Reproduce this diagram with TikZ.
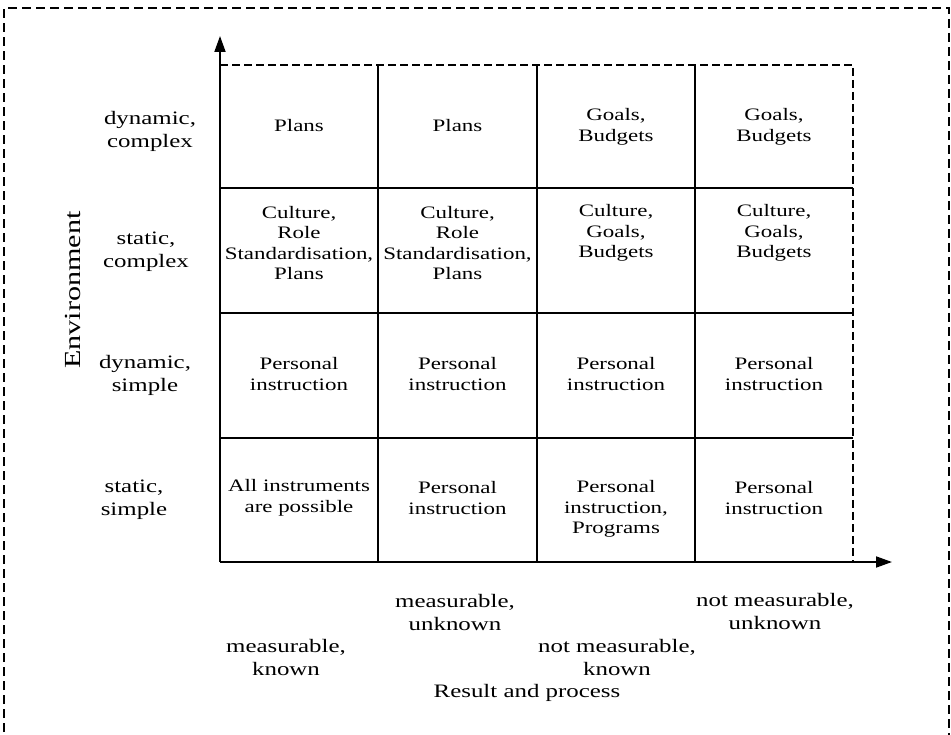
\documentclass[tikz,border=0pt]{standalone}
\usepackage{fontspec}
\setmainfont{Liberation Serif}[FakeStretch=1.31]
\usetikzlibrary{arrows.meta}
\begin{document}
\begin{tikzpicture}[x=1pt,y=-1pt,
  frame/.style={line width=1.6pt,dash pattern=on 9pt off 5pt},
  gridline/.style={line width=1.6pt},
  edge/.style={line width=1.6pt,dash pattern=on 8pt off 4pt},
  axis/.style={line width=1.8pt,-{Triangle[length=16pt,width=11pt]}},
  cell/.style={align=center,inner sep=0pt,font=\fontsize{17.5}{20.5}\selectfont},
  lab/.style={align=center,inner sep=0pt,font=\fontsize{19}{23}\selectfont}]
\useasboundingbox (0,0) rectangle (951,735);
\clip (0,0) rectangle (951,735);
% outer dashed frame (runs past the lower edge)
\draw[frame] (4,760) -- (4,8) -- (949,8) -- (949,760);

% grid corners
\coordinate (O) at (220,562);
\coordinate (TL) at (220,65);
\coordinate (TR) at (853,65);
\coordinate (BR) at (853,562);
\coordinate (ytip) at (220,36);
\coordinate (xtip) at (892,562);

% inner grid lines
\foreach \x in {378,537,695} \draw[gridline] (\x,65) -- (\x,562);
\foreach \y in {188,313,438} \draw[gridline] (220,\y) -- (853,\y);
% dashed top and right edges
\draw[edge] (TL) -- (TR) -- (BR);
% axes
\draw[axis] (O) -- (ytip);
\draw[axis] (O) -- (xtip);

% row labels
\node[lab] (r1) at (150,131) {dynamic,\\complex};
\node[lab] (r2) at (146,252) {static,\\complex};
\node[lab] (r3) at (145,375) {dynamic,\\simple};
\node[lab] (r4) at (134,500) {static,\\simple};
\node[lab,rotate=90,font=\fontsize{23}{26}\selectfont] (env) at (73,290) {Environment};

% column labels
\node[lab] (c1) at (286,657) {measurable,\\known};
\node[lab] (c2) at (455,612) {measurable,\\unknown};
\node[lab] (c3) at (617,657) {not measurable,\\known};
\node[lab] (c4) at (775,611) {not measurable,\\unknown};
\node[lab] (res) at (527,693) {Result and process};

% cells, row 1
\node[cell] (a1) at (299,126) {Plans};
\node[cell] (a2) at (457.5,126) {Plans};
\node[cell] (a3) at (616,127) {Goals,\\Budgets};
\node[cell] (a4) at (774,127) {Goals,\\Budgets};
% row 2
\node[cell] (b1) at (299,243) {Culture,\\Role\\Standardisation,\\Plans};
\node[cell] (b2) at (457.5,243) {Culture,\\Role\\Standardisation,\\Plans};
\node[cell] (b3) at (616,233) {Culture,\\Goals,\\Budgets};
\node[cell] (b4) at (774,233) {Culture,\\Goals,\\Budgets};
% row 3
\node[cell] (d1) at (299,374) {Personal\\instruction};
\node[cell] (d2) at (457.5,374) {Personal\\instruction};
\node[cell] (d3) at (616,374) {Personal\\instruction};
\node[cell] (d4) at (774,374) {Personal\\instruction};
% row 4
\node[cell] (e1) at (299,498) {All instruments\\are possible};
\node[cell] (e2) at (457.5,498) {Personal\\instruction};
\node[cell] (e3) at (616,509) {Personal\\instruction,\\Programs};
\node[cell] (e4) at (774,498) {Personal\\instruction};
\end{tikzpicture}
\end{document}
